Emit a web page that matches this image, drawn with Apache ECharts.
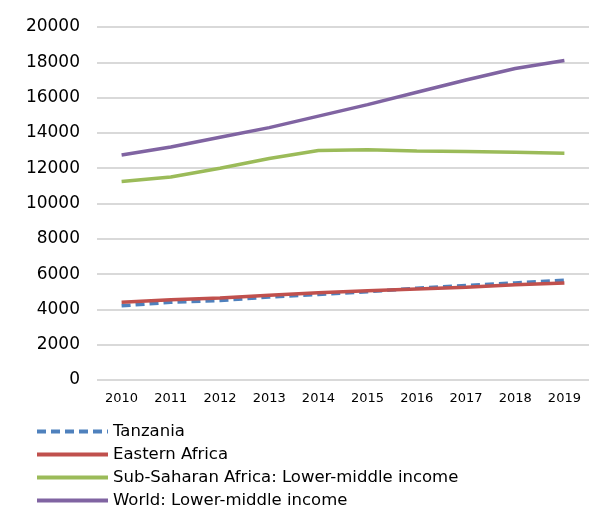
<!DOCTYPE html>
<html>
<head>
<meta charset="utf-8">
<script src="https://cdn.jsdelivr.net/npm/echarts@6/dist/echarts.min.js"></script>
<style>
  html, body { margin: 0; padding: 0; background: #fff; }
  #chart { width: 589px; height: 507px; }
</style>
</head>
<body>
<div id="chart"></div>
<script>
// years on the x axis
const years = ['2010', '2011', '2012', '2013', '2014', '2015', '2016', '2017', '2018', '2019'];
// series values
const tanzania = [4200, 4400, 4500, 4700, 4850, 5000, 5200, 5350, 5500, 5650];
const easternAfrica = [4400, 4550, 4650, 4800, 4950, 5050, 5150, 5250, 5400, 5500];
const subSaharanLMI = [11250, 11500, 12000, 12550, 13000, 13050, 12980, 12950, 12900, 12850];
const worldLMI = [12750, 13200, 13750, 14300, 14950, 15600, 16300, 17000, 17650, 18100];

const chart = echarts.init(document.getElementById('chart'));
const font = 'DejaVu Sans';

function line(name, data, color, type) {
  return {
    name: name,
    type: 'line',
    data: data,
    symbol: 'none',
    lineStyle: { color: color, width: 3.5, type: type || 'solid' },
    itemStyle: { color: color }
  };
}

chart.setOption({
  animation: false,
  grid: { left: 97, right: 0, top: 27, bottom: 127 },
  legend: {
    orient: 'vertical',
    left: 35,
    top: 423,
    height: 120,
    padding: 0,
    itemWidth: 71,
    itemHeight: 12,
    itemGap: 6,
    itemStyle: { opacity: 0 },
    lineStyle: { width: 4 },
    textStyle: { fontFamily: font, fontSize: 16.5, color: '#000' },
    data: ['Tanzania', 'Eastern Africa', 'Sub-Saharan Africa: Lower-middle income', 'World: Lower-middle income']
  },
  xAxis: {
    type: 'category',
    data: years,
    boundaryGap: true,
    axisLine: { show: false },
    axisTick: { show: false },
    axisLabel: { fontFamily: font, fontSize: 13, color: '#000', margin: 12 }
  },
  yAxis: {
    type: 'value',
    min: 0,
    max: 20000,
    interval: 2000,
    axisLine: { show: false },
    axisTick: { show: false },
    axisLabel: { fontFamily: font, fontSize: 17, color: '#000', margin: 17, formatter: v => String(v) },
    splitLine: { lineStyle: { color: '#d9d9d9', width: 2 } }
  },
  series: [
    line('Tanzania', tanzania, '#4f81bd', [9, 5]),
    line('Eastern Africa', easternAfrica, '#c0504d'),
    line('Sub-Saharan Africa: Lower-middle income', subSaharanLMI, '#9bbb59'),
    line('World: Lower-middle income', worldLMI, '#8064a2')
  ]
});
window.addEventListener('resize', () => chart.resize());
</script>
</body>
</html>
